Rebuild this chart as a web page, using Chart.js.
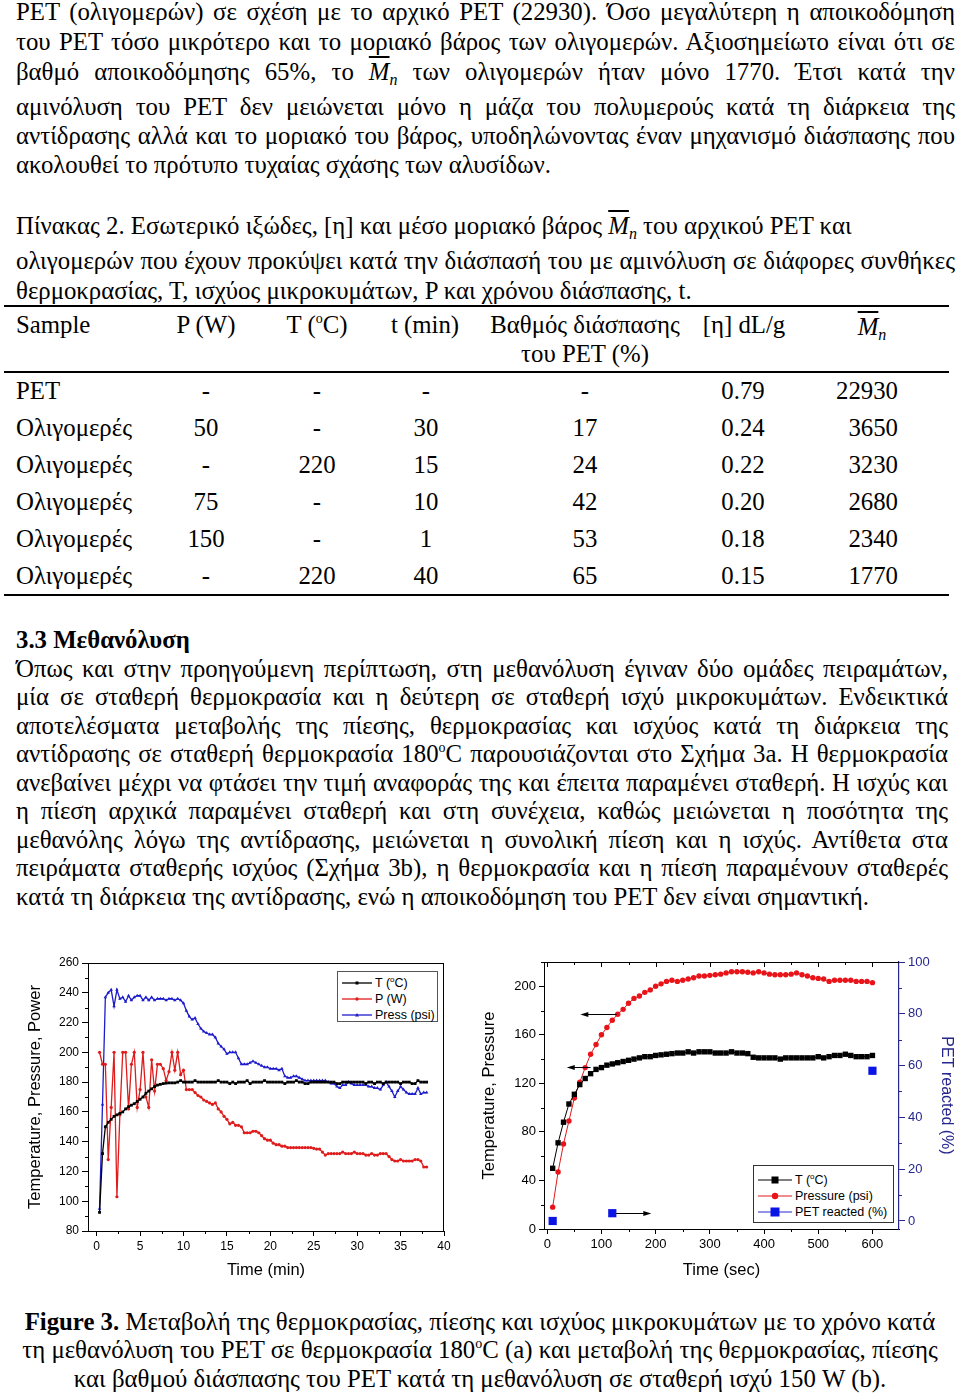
<!DOCTYPE html>
<html>
<head>
<meta charset="utf-8">
<script src="https://cdn.jsdelivr.net/npm/chart.js@4.4.1/dist/chart.umd.min.js"></script>
<style>
html,body{margin:0;padding:0;background:#fff;}
body{position:relative;width:960px;height:1393px;overflow:hidden;font-family:"Liberation Serif","DejaVu Serif",serif;color:#000;}
.ln{position:absolute;left:16px;width:939px;height:30px;line-height:30px;font-size:24.8px;white-space:nowrap;}
.j{text-align:justify;text-align-last:justify;white-space:normal;overflow:visible;}
.w2{width:932px;}
.ov{font-style:italic;text-decoration:overline;}
.mn sub{font-style:italic;font-size:16px;vertical-align:-5px;line-height:0;}
sup{font-size:14px;line-height:0;vertical-align:10px;}
.rule{position:absolute;left:4px;width:945px;height:2px;background:#000;}
.cell{position:absolute;height:30px;line-height:30px;font-size:24.8px;white-space:nowrap;}
.c{text-align:center;transform:translateX(-50%);}
.r{text-align:right;transform:translateX(-100%);}
.cap{position:absolute;left:0;width:960px;text-align:center;height:30px;line-height:30px;font-size:24.8px;white-space:nowrap;}
canvas{position:absolute;}
.lg{position:absolute;background:#fff;font-family:"Liberation Sans",Arial,sans-serif;color:#000;}
.lg .it{position:absolute;left:0;height:14px;line-height:14px;white-space:nowrap;}
.lg svg{position:absolute;top:0;}
.lg sup{font-size:8px;vertical-align:5px;}
</style>
</head>
<body>

<div class="ln j" style="top:-3px">PET (ολιγομερών) σε σχέση με το αρχικό PET (22930). Όσο μεγαλύτερη η αποικοδόμηση</div>
<div class="ln j" style="top:27px">του PET τόσο μικρότερο και το μοριακό βάρος των ολιγομερών. Αξιοσημείωτο είναι ότι σε</div>
<div class="ln j" style="top:57px">βαθμό αποικοδόμησης 65%, το <span class="mn"><span class="ov">M</span><sub>n</sub></span> των ολιγομερών ήταν μόνο 1770. Έτσι κατά την</div>
<div class="ln j" style="top:92px">αμινόλυση του PET δεν μειώνεται μόνο η μάζα του πολυμερούς κατά τη διάρκεια της</div>
<div class="ln j" style="top:121px">αντίδρασης αλλά και το μοριακό του βάρος, υποδηλώνοντας έναν μηχανισμό διάσπασης που</div>
<div class="ln" style="top:150px">ακολουθεί το πρότυπο τυχαίας σχάσης των αλυσίδων.</div>

<div class="ln" style="top:211px">Πίνακας 2. Εσωτερικό ιξώδες, [η] και μέσο μοριακό βάρος <span class="mn"><span class="ov">M</span><sub>n</sub></span> του αρχικού PET και</div>
<div class="ln j" style="top:246px">ολιγομερών που έχουν προκύψει κατά την διάσπασή του με αμινόλυση σε διάφορες συνθήκες</div>
<div class="ln" style="top:276px">θερμοκρασίας, Τ, ισχύος μικροκυμάτων, P και χρόνου διάσπασης, t.</div>

<div class="rule" style="top:305px"></div>
<div class="rule" style="top:371px"></div>
<div class="rule" style="top:594px"></div>

<div id="tbl"></div>

<div class="ln" style="top:625px;font-weight:bold">3.3 Μεθανόλυση</div>
<div class="ln j w2" style="top:654px">Όπως και στην προηγούμενη περίπτωση, στη μεθανόλυση έγιναν δύο ομάδες πειραμάτων,</div>
<div class="ln j w2" style="top:682px">μία σε σταθερή θερμοκρασία και η δεύτερη σε σταθερή ισχύ μικροκυμάτων. Ενδεικτικά</div>
<div class="ln j w2" style="top:711px">αποτελέσματα μεταβολής της πίεσης, θερμοκρασίας και ισχύος κατά τη διάρκεια της</div>
<div class="ln j w2" style="top:739px">αντίδρασης σε σταθερή θερμοκρασία 180<sup>o</sup>C παρουσιάζονται στο Σχήμα 3a. Η θερμοκρασία</div>
<div class="ln j w2" style="top:768px">ανεβαίνει μέχρι να φτάσει την τιμή αναφοράς της και έπειτα παραμένει σταθερή. Η ισχύς και</div>
<div class="ln j w2" style="top:796px">η πίεση αρχικά παραμένει σταθερή και στη συνέχεια, καθώς μειώνεται η ποσότητα της</div>
<div class="ln j w2" style="top:825px">μεθανόλης λόγω της αντίδρασης, μειώνεται η συνολική πίεση και η ισχύς. Αντίθετα στα</div>
<div class="ln j w2" style="top:853px">πειράματα σταθερής ισχύος (Σχήμα 3b), η θερμοκρασία και η πίεση παραμένουν σταθερές</div>
<div class="ln" style="top:882px">κατά τη διάρκεια της αντίδρασης, ενώ η αποικοδόμηση του PET δεν είναι σημαντική.</div>

<canvas id="c1" width="438" height="334" style="left:22px;top:950px"></canvas>
<canvas id="c2" width="484" height="334" style="left:476px;top:950px"></canvas>

<div class="lg" style="left:337px;top:971px;width:99px;height:49px;border:1px solid #555;font-size:12.5px">
  <div class="it" style="top:4px;width:99px"><svg width="30" height="14" style="left:4px"><line x1="0" y1="7" x2="30" y2="7" stroke="#000" stroke-width="1.3"/><rect x="13.5" y="5.5" width="3" height="3" fill="#000"/></svg><span style="position:absolute;left:37px">T (<sup>o</sup>C)</span></div>
  <div class="it" style="top:20px;width:99px"><svg width="30" height="14" style="left:4px"><line x1="0" y1="7" x2="30" y2="7" stroke="#e01b1b" stroke-width="1.3"/><circle cx="15" cy="7" r="1.7" fill="#e01b1b"/></svg><span style="position:absolute;left:37px">P (W)</span></div>
  <div class="it" style="top:36px;width:99px"><svg width="30" height="14" style="left:4px"><line x1="0" y1="7" x2="30" y2="7" stroke="#1c1ccc" stroke-width="1.3"/><polygon points="15,5 17,8.5 13,8.5" fill="#1c1ccc"/></svg><span style="position:absolute;left:37px">Press (psi)</span></div>
</div>

<div class="lg" style="left:753px;top:1165px;width:139px;height:56px;border:1px solid #333;font-size:12.5px">
  <div class="it" style="top:7px;width:139px"><svg width="34" height="14" style="left:4px"><line x1="0" y1="7" x2="34" y2="7" stroke="#000" stroke-width="1"/><rect x="13.5" y="3.5" width="7" height="7" fill="#000"/></svg><span style="position:absolute;left:41px">T (<sup>o</sup>C)</span></div>
  <div class="it" style="top:23px;width:139px"><svg width="34" height="14" style="left:4px"><line x1="0" y1="7" x2="34" y2="7" stroke="#e01b1b" stroke-width="1"/><circle cx="17" cy="7" r="3.2" fill="#e8141a"/></svg><span style="position:absolute;left:41px">Pressure (psi)</span></div>
  <div class="it" style="top:39px;width:139px"><svg width="34" height="14" style="left:4px"><line x1="0" y1="7" x2="34" y2="7" stroke="#2b2bd0" stroke-width="1"/><rect x="12.5" y="2.5" width="9" height="9" fill="#0a14e6"/></svg><span style="position:absolute;left:41px">PET reacted (%)</span></div>
</div>

<div class="cap" style="top:1307px"><b>Figure 3.</b> Μεταβολή της θερμοκρασίας, πίεσης και ισχύος μικροκυμάτων με το χρόνο κατά</div>
<div class="cap" style="top:1335px">τη μεθανόλυση του PET σε θερμοκρασία 180<sup>o</sup>C (a) και μεταβολή της θερμοκρασίας, πίεσης</div>
<div class="cap" style="top:1364px">και βαθμού διάσπασης του PET κατά τη μεθανόλυση σε σταθερή ισχύ 150 W (b).</div>

<script>
// ---------- Table 2 data ----------
const sampleNames = ['PET','Ολιγομερές','Ολιγομερές','Ολιγομερές','Ολιγομερές','Ολιγομερές'];
const powerCol = ['-','50','-','75','150','-'];
const tempCol = ['-','-','220','-','-','220'];
const timeCol = ['-','30','15','10','1','40'];
const degradCol = ['-','17','24','42','53','65'];
const viscCol = ['0.79','0.24','0.22','0.20','0.18','0.15'];
const mnCol = ['22930','3650','3230','2680','2340','1770'];

// ---------- Figure 3a data (time in min) ----------
const timeMin = [
 0.33,0.67,1,1.33,1.67,2,2.33,2.67,3,3.33,3.67,4,4.33,4.67,5,5.33,5.67,6,6.33,6.67,7,7.33,7.67,8,8.33,8.67,9,9.33,9.67,10,
 10.33,10.67,11,11.33,11.67,12,12.33,12.67,13,13.33,13.67,14,14.33,14.67,15,15.33,15.67,16,16.33,16.67,17,17.33,17.67,18,18.33,18.67,19,19.33,19.67,20,
 20.33,20.67,21,21.33,21.67,22,22.33,22.67,23,23.33,23.67,24,24.33,24.67,25,25.33,25.67,26,26.33,26.67,27,27.33,27.67,28,28.33,28.67,29,29.33,29.67,30,
 30.33,30.67,31,31.33,31.67,32,32.33,32.67,33,33.33,33.67,34,34.33,34.67,35,35.33,35.67,36,36.33,36.67,37,37.33,37.67,38];
const tempC = [
 92.5,132,150,153,155,157,158,159,160,162,163.5,164.5,165.5,167,168.5,170,172.5,174,175.5,177,178,178.5,179,179.3,179.5,179.5,179.5,180,181,180,
 180,180,180,181,180,180,180,180,180,180,180,181,180,180,180,179,180,179,180,180,180,181,179,180,180,180,180,181,180,180,
 180,180,180,180,179,180,180,180,181,180,180,179,179,180,180,180,180,180,180,180,180,180,179,179,180,180,180,180,180,180,
 180,180,179,180,180,179,180,180,179,180,180,180,180,180,179,180,180,180,179,179,181,180,180,180];
const powerW = [
 200,192,192,128,163,200,103,158,200,200,162,192,200,163,175,200,170,163,195,174,192,192,189,181,187,200,188,200,185,188,
 175,175,175,173,171,170,168,167,166,165,166,162,160,157,155,152,153,151,151,150,146,146,146,147,147,146,144,142,141,141,
 139,138,138,137,137,136,136,136,136,136,136,136,136,136,135.5,135,135,133,131,132,132,132,132,132,133,132,132,132,133,132,
 132,132,131,131,132,131,131,132,132,132,130,128,127,127,128,127,127,127,127,128,128,127,123,123];
const pressPsi = [
 95,165,237,240,242,231,242,236,237,234,238,235,237,238,238,235,237,235,237,235,236,236,236,235,236,236,235,236,235,233,
 228,224,222,223,219,216,214,213,212,212,210,206,204,202,199,200,200,200,196,192,192,192,193,194,193,192,191,190,190,189,
 189,189,188,189,184,183,183,184,184,183,182,181,181,181,181,181,181,181,181,180,179,179,177,176,178,178,180,179,178,178,
 178,178,178,177,177,176,176,175,178,180,177,174,170,174,177,175,173,172,172,172,176,172,173,173];
const ticksMinA = [0,5,10,15,20,25,30,35,40];
const ticksValA = [80,100,120,140,160,180,200,220,240,260];

// ---------- Figure 3b data (time in sec) ----------
const timeSec = [10,20,30,40,50,60,70,80,90,100,110,120,130,140,150,160,170,180,190,200,
 210,220,230,240,250,260,270,280,290,300,310,320,330,340,350,360,370,380,390,400,
 410,420,430,440,450,460,470,480,490,500,510,520,530,540,550,560,570,580,590,600];
const tempB = [50,71,88,103,111,119,124,128,131.5,133,135,136,137,138,139,140,141,142,142,143,
 143.5,144,144.5,145,145,146,145,146,146,146,145,145,145,146,145,145,144.5,141.5,141,141,
 141,141,140,141,141,141,141,141,141,142,141,142,143,143,144,143,142,142,142,143];
const pressB = [18,47,70,89,108,121,133,144,152,160,166,172,177,181,186,190,192,195,197,200,
 202,204,205,204,205,206,207,208.5,208.5,209,209.5,210,211,212,212,212,211.5,211,212,211,
 210,209.5,209.5,209.5,210,211,209.5,208.5,207,206.5,206,204,205,205,205,205,204,204,204,203];
const petTimeSec = [10,120,600];
const petReacted = [0,3,58];
const ticksSecB = [0,100,200,300,400,500,600];
const ticksValB = [0,40,80,120,160,200];
const ticksPetB = [0,20,40,60,80,100];
// arrows pointing to the axis each curve belongs to (data units)
const arrowFrom = [128,80,127];
const arrowTo = [61,36,192];
const arrowAt = [177.3,133.4,3];
const arrowAxis = ['y','y','y2'];

// ---------- build table ----------
(function(){
  const t = document.getElementById('tbl');
  const add = (html, top, x, cls) => {
    const d = document.createElement('div');
    d.className = 'cell ' + (cls||'');
    d.style.top = top + 'px'; d.style.left = x + 'px';
    d.innerHTML = html; t.appendChild(d);
  };
  add('Sample', 310, 16);
  add('P (W)', 310, 206, 'c');
  add('T (<sup>o</sup>C)', 310, 317, 'c');
  add('t (min)', 310, 425, 'c');
  add('Βαθμός διάσπασης', 310, 585, 'c');
  add('του PET (%)', 339, 585, 'c');
  add('[η] dL/g', 310, 744, 'c');
  add('<span class="mn"><span class="ov">M</span><sub>n</sub></span>', 312, 872, 'c');
  const tops = [376,413,450,487,524,561];
  sampleNames.forEach((s,i)=>{
    add(s, tops[i], 16);
    add(powerCol[i], tops[i], 206, 'c');
    add(tempCol[i], tops[i], 317, 'c');
    add(timeCol[i], tops[i], 426, 'c');
    add(degradCol[i], tops[i], 585, 'c');
    add(viscCol[i], tops[i], 743, 'c');
    add(mnCol[i], tops[i], 898, 'r');
  });
})();

// ---------- plugins ----------
const decorPlugin = {
  id: 'decor',
  afterDraw(chart, args, opts) {
    const {ctx, chartArea: a} = chart;
    ctx.save();
    ctx.lineWidth = 1;
    ctx.strokeStyle = '#000';
    ctx.beginPath();
    const top = Math.round(a.top) + 0.5, right = Math.round(a.right) - 0.5;
    ctx.moveTo(a.left, top); ctx.lineTo(a.right, top);
    if (opts.rightEdge) { ctx.moveTo(right, a.top); ctx.lineTo(right, a.bottom); }
    ctx.stroke();
    for (const m of (opts.ticks || [])) {
      const s = chart.scales[m.axis];
      ctx.strokeStyle = m.color || '#000';
      ctx.beginPath();
      for (const v of m.values) {
        if (v < s.min || v > s.max) continue;
        const p = Math.round(s.getPixelForValue(v)) + 0.5;
        if (m.side === 'left') { ctx.moveTo(a.left, p); ctx.lineTo(a.left - m.len, p); }
        else if (m.side === 'right') { ctx.moveTo(a.right, p); ctx.lineTo(a.right + m.len, p); }
        else if (m.side === 'bottom') { ctx.moveTo(p, a.bottom); ctx.lineTo(p, a.bottom + m.len); }
        else if (m.side === 'top') { ctx.moveTo(p, a.top); ctx.lineTo(p, a.top + m.len); }
      }
      ctx.stroke();
    }
    ctx.restore();
  }
};
const arrowPlugin = {
  id: 'arrows',
  afterDatasetsDraw(chart) {
    const ctx = chart.ctx, xs = chart.scales.x;
    ctx.save();
    ctx.strokeStyle = '#000'; ctx.fillStyle = '#000'; ctx.lineWidth = 1;
    arrowFrom.forEach((f, i) => {
      const ys = chart.scales[arrowAxis[i]];
      const x1 = xs.getPixelForValue(f), x2 = xs.getPixelForValue(arrowTo[i]);
      const y = Math.round(ys.getPixelForValue(arrowAt[i])) + 0.5;
      const dir = x2 > x1 ? 1 : -1;
      ctx.beginPath(); ctx.moveTo(x1, y); ctx.lineTo(x2 - dir * 6, y); ctx.stroke();
      ctx.beginPath(); ctx.moveTo(x2, y); ctx.lineTo(x2 - dir * 8, y - 2.5); ctx.lineTo(x2 - dir * 8, y + 2.5); ctx.closePath(); ctx.fill();
    });
    ctx.restore();
  }
};

const SANS = 'Liberation Sans';
const halfSteps = (arr) => arr.slice(0, -1).map((v, i) => (v + arr[i + 1]) / 2);
function setTicks(list){ return (s) => { s.ticks = list.map(v => ({value: v})); }; }

// ---------- Figure 3a ----------
new Chart(document.getElementById('c1'), {
  type: 'line',
  data: {
    datasets: [
      {label: 'T (°C)', data: timeMin.map((t,i)=>({x:t, y:tempC[i]})), borderColor:'#000', backgroundColor:'#000',
       borderWidth:1.3, pointStyle:'rect', pointRadius:2, pointBorderWidth:0, pointBackgroundColor:'#000', tension:0},
      {label: 'P (W)', data: timeMin.map((t,i)=>({x:t, y:powerW[i]})), borderColor:'#e01b1b', backgroundColor:'#e01b1b',
       borderWidth:1.3, pointStyle:'circle', pointRadius:1.6, pointBorderWidth:0, pointBackgroundColor:'#e01b1b', tension:0},
      {label: 'Press (psi)', data: timeMin.map((t,i)=>({x:t, y:pressPsi[i]})), borderColor:'#1c1ccc', backgroundColor:'#1c1ccc',
       borderWidth:1.3, pointStyle:'triangle', pointRadius:2, pointBorderWidth:0, pointBackgroundColor:'#1c1ccc', tension:0}
    ]
  },
  options: {
    responsive:false, animation:false, events:[],
    layout:{padding:{top:13,right:16,left:0,bottom:0}},
    plugins:{legend:{display:false}, tooltip:{enabled:false},
      decor:{rightEdge:true, ticks:[
        {axis:'y', side:'left', len:3, values: halfSteps(ticksValA)},
        {axis:'x', side:'bottom', len:3, values: halfSteps(ticksMinA)}
      ]}},
    scales:{
      x:{type:'linear', min:-1, max:40, afterBuildTicks:setTicks(ticksMinA),
         ticks:{font:{family:SANS,size:12}, color:'#000', padding:3, maxRotation:0, autoSkip:false},
         grid:{drawOnChartArea:false, drawTicks:true, tickLength:5, color:'#000'},
         border:{color:'#000', width:1},
         title:{display:true, text:'Time (min)', color:'#000', font:{family:SANS,size:16.5}},
         afterFit:(s)=>{s.height=53;}},
      y:{type:'linear', min:80, max:260, afterBuildTicks:setTicks(ticksValA),
         ticks:{font:{family:SANS,size:12}, color:'#000', padding:3, autoSkip:false},
         grid:{drawOnChartArea:false, drawTicks:true, tickLength:6, color:'#000'},
         border:{color:'#000', width:1},
         title:{display:true, text:'Temperature, Pressure, Power', color:'#000', font:{family:SANS,size:16.5}},
         afterFit:(s)=>{s.width=66;}}
    }
  },
  plugins:[decorPlugin]
});

// ---------- Figure 3b ----------
const NAVY = '#26268f';
new Chart(document.getElementById('c2'), {
  type: 'line',
  data: {
    datasets: [
      {label: 'T (°C)', data: timeSec.map((t,i)=>({x:t, y:tempB[i]})), borderColor:'#000', backgroundColor:'#000',
       borderWidth:1, pointStyle:'rect', pointRadius:3.8, pointBorderWidth:0, pointBackgroundColor:'#000', tension:0, yAxisID:'y'},
      {label: 'Pressure (psi)', data: timeSec.map((t,i)=>({x:t, y:pressB[i]})), borderColor:'#e01b1b', backgroundColor:'#e8141a',
       borderWidth:1, pointStyle:'circle', pointRadius:2.7, pointBorderWidth:0, pointBackgroundColor:'#e8141a', tension:0, yAxisID:'y'},
      {label: 'PET reacted (%)', data: petTimeSec.map((t,i)=>({x:t, y:petReacted[i]})), borderColor:'#0a14e6', backgroundColor:'#0a14e6',
       showLine:false, pointStyle:'rect', pointRadius:5.8, pointBorderWidth:0, pointBackgroundColor:'#0a14e6', yAxisID:'y2'}
    ]
  },
  options: {
    responsive:false, animation:false, events:[],
    layout:{padding:{top:12,right:0,left:0,bottom:0}},
    plugins:{legend:{display:false}, tooltip:{enabled:false},
      decor:{rightEdge:false, ticks:[
        {axis:'y', side:'left', len:3, values: halfSteps(ticksValB).concat([220])},
        {axis:'x', side:'bottom', len:3, values: halfSteps(ticksSecB)},
        {axis:'x', side:'top', len:5, values: ticksSecB},
        {axis:'x', side:'top', len:3, values: halfSteps(ticksSecB)},
        {axis:'y2', side:'right', len:3, values: halfSteps(ticksPetB), color:NAVY}
      ]}},
    scales:{
      x:{type:'linear', min:-6, max:649, afterBuildTicks:setTicks(ticksSecB),
         ticks:{font:{family:SANS,size:13}, color:'#000', padding:3, maxRotation:0, autoSkip:false},
         grid:{drawOnChartArea:false, drawTicks:true, tickLength:5, color:'#000'},
         border:{color:'#000', width:1},
         title:{display:true, text:'Time (sec)', color:'#000', font:{family:SANS,size:16.5}},
         afterFit:(s)=>{s.height=55;}},
      y:{type:'linear', position:'left', min:0, max:220, afterBuildTicks:setTicks(ticksValB),
         ticks:{font:{family:SANS,size:13}, color:'#000', padding:3, autoSkip:false},
         grid:{drawOnChartArea:false, drawTicks:true, tickLength:5, color:'#000'},
         border:{color:'#000', width:1},
         title:{display:true, text:'Temperature, Pressure', color:'#000', font:{family:SANS,size:16.5}},
         afterFit:(s)=>{s.width=68;}},
      y2:{type:'linear', position:'right', min:-3.1, max:100, afterBuildTicks:setTicks(ticksPetB),
         ticks:{font:{family:SANS,size:13}, color:NAVY, padding:3, autoSkip:false},
         grid:{drawOnChartArea:false, drawTicks:true, tickLength:6, color:NAVY},
         border:{color:NAVY, width:1.2},
         title:{display:true, text:'PET reacted (%)', color:NAVY, font:{family:SANS,size:16}},
         afterFit:(s)=>{s.width=61;}}
    }
  },
  plugins:[decorPlugin, arrowPlugin]
});
</script>
</body>
</html>
